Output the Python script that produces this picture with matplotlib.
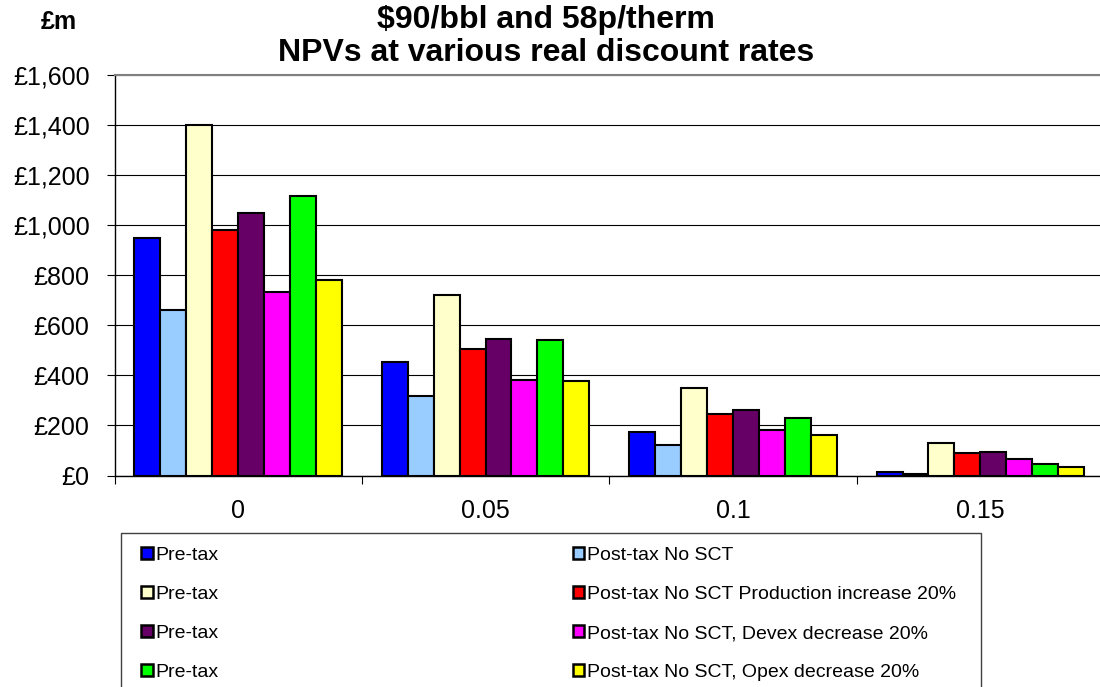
import numpy as np
import matplotlib
matplotlib.use("Agg")
import matplotlib.pyplot as plt
from matplotlib.patches import Rectangle
from matplotlib.ticker import FuncFormatter, FixedLocator

plt.rcParams['font.family'] = ['Liberation Sans', 'DejaVu Sans']

# === Data
categories = ["0", "0.05", "0.1", "0.15"]
series_names = [
    "Pre-tax",
    "Post-tax No SCT",
    "Pre-tax",
    "Post-tax No SCT Production increase 20%",
    "Pre-tax",
    "Post-tax No SCT, Devex decrease 20%",
    "Pre-tax",
    "Post-tax No SCT, Opex decrease 20%",
]
colors = ["#0000FF", "#99CCFF", "#FFFFCC", "#FF0000",
          "#660066", "#FF00FF", "#00FF00", "#FFFF00"]
pre_tax = [950, 452, 175, 12]
post_tax = [662, 316, 122, 5]
pre_tax_2 = [1400, 720, 348, 131]
post_tax_prod = [980, 506, 244, 90]
pre_tax_3 = [1048, 544, 260, 92]
post_tax_devex = [732, 380, 182, 64]
pre_tax_4 = [1116, 542, 228, 47]
post_tax_opex = [780, 378, 160, 33]
values = [pre_tax, post_tax, pre_tax_2, post_tax_prod,
          pre_tax_3, post_tax_devex, pre_tax_4, post_tax_opex]
yticks = list(range(0, 1601, 200))

W, H = 1100, 687
fig = plt.figure(figsize=(W / 100, H / 100), dpi=100)
ax = fig.add_axes([114.5 / W, 1 - 475.5 / H, 989.5 / W, 400.5 / H])

x = np.arange(len(categories))
bw = 0.1048
handles = []
for k, (vals, col) in enumerate(zip(values, colors)):
    b = ax.bar(x + (k - 3.5) * bw, vals, width=bw, color=col,
               edgecolor='black', linewidth=1.5, zorder=3)
    handles.append(b)

ax.set_xlim(-0.5, 3.5)
ax.set_ylim(0, 1600)
ax.set_yticks(yticks)
ax.yaxis.set_major_formatter(FuncFormatter(lambda v, p: f"£{v:,.0f}"))
ax.yaxis.grid(True, color='black', linewidth=0.8, zorder=0)
ax.set_xticks(x)
ax.set_xticklabels(categories)
ax.xaxis.set_minor_locator(FixedLocator(np.arange(-0.5, 3.6, 1)))
ax.tick_params(axis='x', which='major', length=0, pad=17, labelsize=18)
ax.tick_params(axis='x', which='minor', length=6, width=0.8, direction='out')
ax.tick_params(axis='y', length=6, width=0.8, direction='out', pad=12, labelsize=18)
ax.spines['right'].set_visible(False)
ax.spines['top'].set_color('#808080')
ax.spines['top'].set_linewidth(1.5)
ax.spines['left'].set_linewidth(1)
ax.spines['bottom'].set_linewidth(1)

fig.text(546 / W, 1 - 5 / H, "$90/bbl and 58p/therm\nNPVs at various real discount rates",
         ha='center', va='top', fontsize=23, fontweight='bold', linespacing=1.15)
fig.text(59 / W, 1 - 22 / H, "£m", ha='center', va='center', fontsize=18, fontweight='bold')

# === Legend
order = [0, 2, 4, 6, 1, 3, 5, 7]
leg = fig.legend([handles[i] for i in order], [series_names[i] for i in order],
                 ncol=2, loc='upper left', bbox_to_anchor=(141 / W, 1 - 547 / H),
                 frameon=False, fontsize=14, handlelength=0.6, handleheight=0.6,
                 handletextpad=0.15, columnspacing=18.2, labelspacing=1.13,
                 borderpad=0, borderaxespad=0)
for p in leg.get_patches():
    p.set_linewidth(1.8)
fig.add_artist(Rectangle((121 / W, -0.01), (981 - 121) / W, 0.01 + 1 - 533 / H,
                         transform=fig.transFigure, fill=False,
                         edgecolor='#404040', linewidth=1))

fig.savefig("out.png", dpi=100)
